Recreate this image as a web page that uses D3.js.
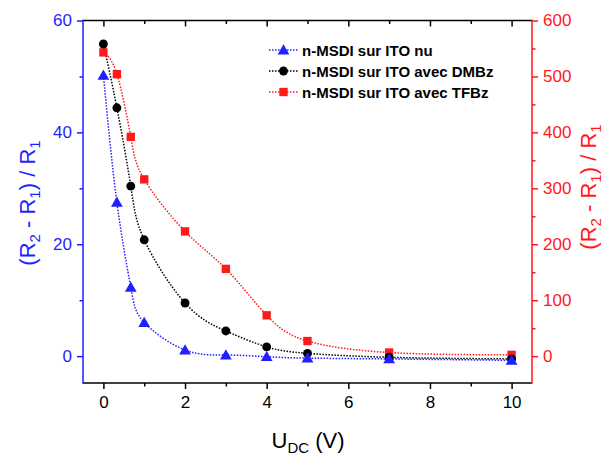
<!DOCTYPE html>
<html><head><meta charset="utf-8">
<script src="https://cdn.jsdelivr.net/npm/d3@7"></script>
<style>body{margin:0;background:#fff}svg{display:block}text{font-family:"Liberation Sans",Arial,sans-serif}</style>
</head><body>
<svg id="c" width="603" height="455"></svg>
<script>
const xVals = [0, 0.33, 0.67, 1, 2, 3, 4, 5, 7, 10];
const nuVals = [50.2, 27.5, 12.3, 6.0, 1.1, 0.2, -0.1, -0.35, -0.5, -0.75];
const dmbzVals = [55.8, 44.4, 30.4, 20.8, 9.5, 4.5, 1.65, 0.5, -0.2, -0.5];
const tfbzVals = [543, 504, 392, 316, 223, 156, 73, 27, 6.5, 2.3];
const seriesNames = ["n-MSDI sur ITO nu", "n-MSDI sur ITO avec DMBz", "n-MSDI sur ITO avec TFBz"];
const xTicks = [0, 2, 4, 6, 8, 10];
const leftTicks = [0, 20, 40, 60];
const rightTicks = [0, 100, 200, 300, 400, 500, 600];

const svg = d3.select("#c");
const L = 83, R = 532, T = 20.5, B = 383;
const x = d3.scaleLinear().domain([-0.5, 10.5]).range([L, R]);
const yL = d3.scaleLinear().domain([-4.8, 60]).range([B, T]);
const yR = d3.scaleLinear().domain([-48, 600]).range([B, T]);

const BLUE = "#1f1fff", RED = "#ff1a1a", BLACK = "#000";

function styleAxis(g, color, fs) {
  g.select(".domain").remove();
  g.selectAll("line").attr("stroke", color).attr("stroke-width", 1.5);
  g.selectAll("text").attr("fill", color).style("font-size", fs + "px");
}
// bottom
svg.append("g").attr("transform", `translate(0,${B})`)
  .call(d3.axisBottom(x).tickValues(xTicks).tickSize(6).tickPadding(7).tickFormat(d3.format("d")))
  .call(g => styleAxis(g, BLACK, 17));
svg.append("g").attr("transform", `translate(0,${B})`)
  .call(d3.axisBottom(x).tickValues([1,3,5,7,9]).tickSize(3.5).tickFormat(""))
  .call(g => styleAxis(g, BLACK, 17));
// top (inward)
svg.append("g").attr("transform", `translate(0,${T})`)
  .call(d3.axisBottom(x).tickValues(xTicks).tickSize(6).tickFormat(""))
  .call(g => styleAxis(g, BLACK, 17));
svg.append("g").attr("transform", `translate(0,${T})`)
  .call(d3.axisBottom(x).tickValues([1,3,5,7,9]).tickSize(3.5).tickFormat(""))
  .call(g => styleAxis(g, BLACK, 17));
// left
svg.append("g").attr("transform", `translate(${L},0)`)
  .call(d3.axisLeft(yL).tickValues(leftTicks).tickSize(6).tickPadding(5).tickFormat(d3.format("d")))
  .call(g => styleAxis(g, BLUE, 17));
svg.append("g").attr("transform", `translate(${L},0)`)
  .call(d3.axisLeft(yL).tickValues([10,30,50]).tickSize(3.5).tickFormat(""))
  .call(g => styleAxis(g, BLUE, 17));
// right
svg.append("g").attr("transform", `translate(${R},0)`)
  .call(d3.axisRight(yR).tickValues(rightTicks).tickSize(6).tickPadding(5).tickFormat(d3.format("d")))
  .call(g => styleAxis(g, RED, 17));
svg.append("g").attr("transform", `translate(${R},0)`)
  .call(d3.axisRight(yR).tickValues([50,150,250,350,450,550]).tickSize(3.5).tickFormat(""))
  .call(g => styleAxis(g, RED, 17));

// frame lines
svg.append("line").attr("x1", L).attr("x2", R).attr("y1", B).attr("y2", B).attr("stroke", BLACK).attr("stroke-width", 1.5);
svg.append("line").attr("x1", L).attr("x2", R).attr("y1", T).attr("y2", T).attr("stroke", BLACK).attr("stroke-width", 1.5);
svg.append("line").attr("x1", L).attr("x2", L).attr("y1", T-0.75).attr("y2", B+0.75).attr("stroke", BLUE).attr("stroke-width", 1.5);
svg.append("line").attr("x1", R).attr("x2", R).attr("y1", T-0.75).attr("y2", B+0.75).attr("stroke", RED).attr("stroke-width", 1.5);

// markers
const tri = d3.symbol().type(d3.symbolTriangle).size(60);
const circ = d3.symbol().type(d3.symbolCircle).size(62);
const sq = d3.symbol().type(d3.symbolSquare).size(70);

const series = [
  {name: seriesNames[2], vals: tfbzVals, y: yR, color: RED, sym: sq},
  {name: seriesNames[1], vals: dmbzVals, y: yL, color: BLACK, sym: circ},
  {name: seriesNames[0], vals: nuVals, y: yL, color: BLUE, sym: tri}
];
series.forEach(s => {
  const pts = xVals.map((xv, i) => [x(xv), s.y(s.vals[i])]);
  svg.append("path").attr("d", d3.line().curve(d3.curveNatural)(pts))
    .attr("fill", "none").attr("stroke", s.color).attr("stroke-width", 1.5).attr("stroke-dasharray", "1.5,1.5");
});
series.forEach(s => {
  svg.append("g").selectAll("path").data(xVals).join("path")
    .attr("transform", (d, i) => `translate(${x(d)},${s.y(s.vals[i]) + (s.sym === tri ? 1 : 0)})`)
    .attr("d", s.sym()).attr("fill", s.color);
});

// legend
const legend = [
  {name: seriesNames[0], color: BLUE, sym: tri},
  {name: seriesNames[1], color: BLACK, sym: circ},
  {name: seriesNames[2], color: RED, sym: sq}
];
legend.forEach((l, i) => {
  const yy = 50 + i * 21;
  svg.append("line").attr("x1", 269).attr("x2", 298).attr("y1", yy).attr("y2", yy)
    .attr("stroke", l.color).attr("stroke-width", 1.5).attr("stroke-dasharray", "1.5,1.5");
  svg.append("path").attr("transform", `translate(283.5,${yy + (l.sym === tri ? 1 : 0)})`).attr("d", l.sym()).attr("fill", l.color);
  svg.append("text").attr("x", 302).attr("y", yy + 5.5).attr("font-weight", "bold")
    .style("font-size", "15px").attr("fill", "#000").text(l.name);
});

// axis titles
function yTitle(cx, cy, color) {
  const t = svg.append("text").attr("transform", `translate(${cx},${cy}) rotate(-90)`)
    .attr("text-anchor", "middle").attr("fill", color).style("font-size", "22px");
  t.append("tspan").text("(R");
  t.append("tspan").text("2").style("font-size", "15px").attr("dy", 5);
  t.append("tspan").text(" - R").attr("dy", -5);
  t.append("tspan").text("1").style("font-size", "15px").attr("dy", 5);
  t.append("tspan").text(") / R").attr("dy", -5);
  t.append("tspan").text("1").style("font-size", "15px").attr("dy", 5);
}
yTitle(35, 203, BLUE);
yTitle(596, 187, RED);

const xt = svg.append("text").attr("x", 308).attr("y", 448).attr("text-anchor", "middle")
  .attr("fill", "#000").style("font-size", "22px");
xt.append("tspan").text("U");
xt.append("tspan").text("DC").style("font-size", "15px").attr("dy", 5);
xt.append("tspan").text(" (V)").attr("dy", -5);
</script>
</body></html>
